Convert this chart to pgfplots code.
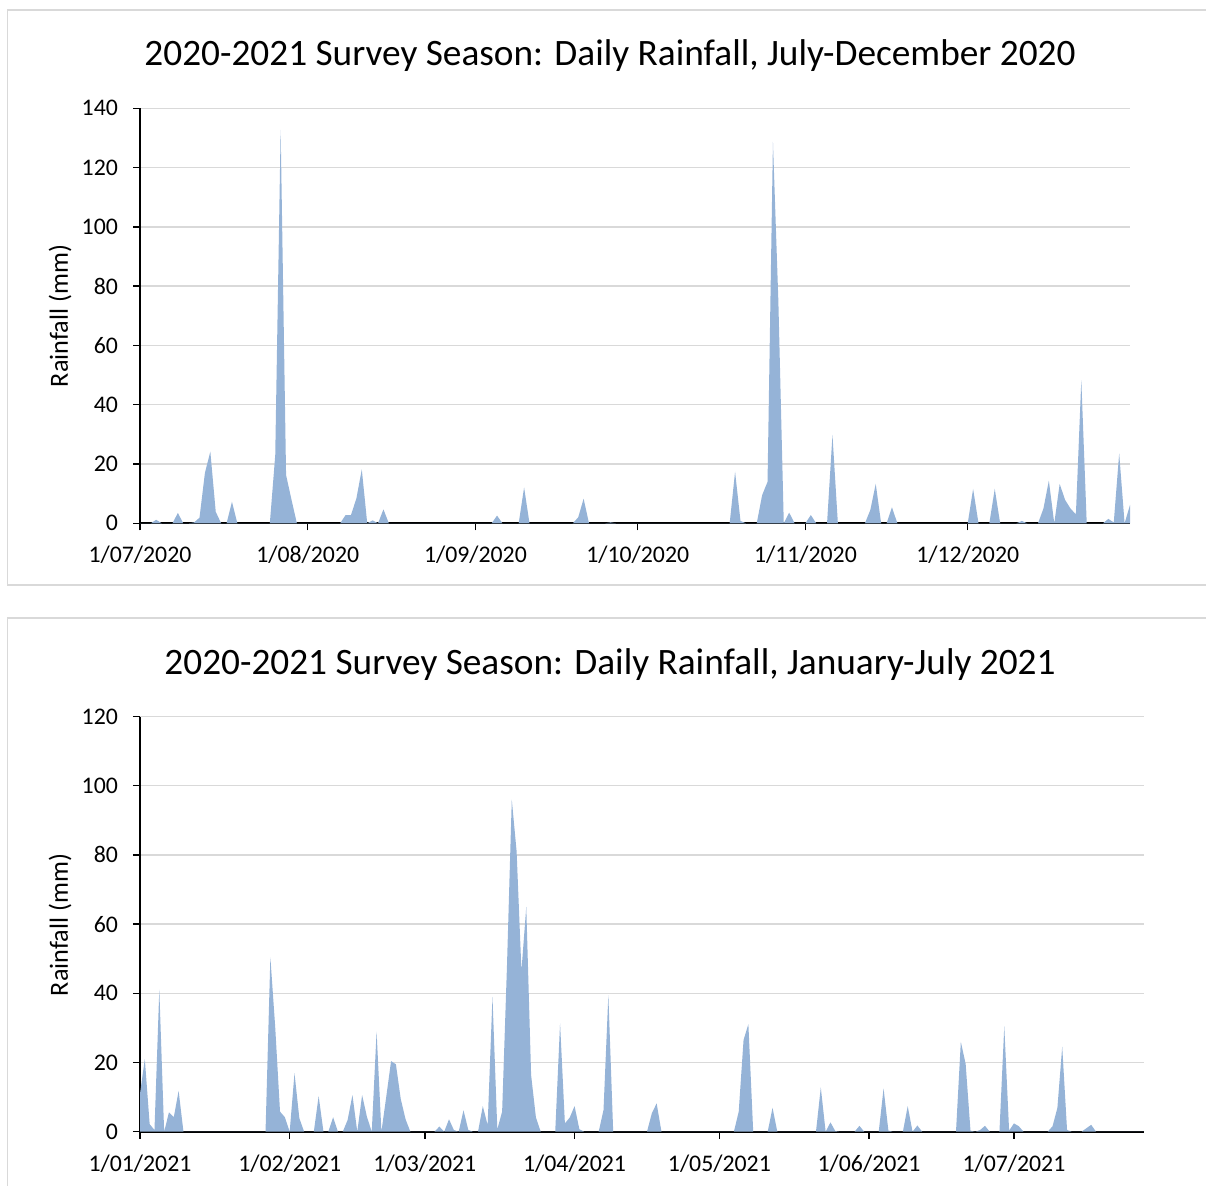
\documentclass[border=0pt]{standalone}
\usepackage{pgfplots}
\pgfplotsset{compat=1.18}
\usepackage{fontspec}
\setmainfont{Carlito}
\definecolor{areablue}{RGB}{149,179,215}
\definecolor{gridgray}{RGB}{217,217,217}
\pgfplotsset{
  rainaxis/.style={
    scale only axis,
    axis lines*=left,
    xmin=0, ymin=0,
    axis line style={black, line width=1pt},
    tick style={black, line width=0.75pt},
    major tick length=3.5pt,
    tick align=outside,
    ymajorgrids,
    grid style={gridgray, line width=0.75pt},
    ticklabel style={font=\fontsize{11.9}{14}\selectfont},
    xticklabel style={yshift=-4.5pt},
    yticklabel style={xshift=-4pt},
    /pgf/number format/assume math mode=true,
    anchor=south west,
  }
}
\begin{document}
\begin{tikzpicture}
\useasboundingbox (0,0) rectangle (603pt,-592.5pt);
\clip (0,0) rectangle (603pt,-592.5pt);
\draw[gridgray, line width=0.75pt] (3.75pt,-5pt) rectangle (612pt,-292.5pt);
\draw[gridgray, line width=0.75pt] (3.75pt,-309pt) rectangle (612pt,-600pt);

\node[font=\fontsize{18.65}{23}\selectfont] at (305pt,-28pt) {2020-2021 Survey Season: Daily Rainfall, July-December 2020};
\node[font=\fontsize{13.1}{16}\selectfont, rotate=90] at (30pt,-158pt) {Rainfall (mm)};

\begin{axis}[rainaxis,
  at={(70pt,-261.65pt)},
  width=495pt, height=207.5pt,
  xmax=183, ymax=140,
  ytick={0,20,...,140},
  xtick={0,31,62,92,123,153},
  xticklabels={1/07/2020,1/08/2020,1/09/2020,1/10/2020,1/11/2020,1/12/2020},
]
\addplot[draw=none, fill=areablue] coordinates {
(0,0)(1,0)(2,0)(3,1.2)(4,0)(5,0)(6,0)(7,3.5)(8,0)(9,0)
(10,0.3)(11,1.9)(12,17)(13,24.2)(14,3.9)(15,0)(16,0)(17,7.3)(18,0)(19,0)
(20,0)(21,0)(22,0)(23,0)(24,0)(25,23)(26,132.7)(27,16.3)(28,8)(29,0)
(30,0)(31,0)(32,0)(33,0)(34,0)(35,0)(36,0)(37,0)(38,2.8)(39,2.8)
(40,8.4)(41,18.2)(42,0)(43,1)(44,0)(45,4.7)(46,0)(47,0)(48,0)(49,0)
(50,0)(51,0)(52,0)(53,0)(54,0)(55,0)(56,0)(57,0)(58,0)(59,0)
(60,0)(61,0)(62,0)(63,0)(64,0)(65,0)(66,2.6)(67,0)(68,0)(69,0)
(70,0)(71,12.1)(72,0)(73,0)(74,0)(75,0)(76,0)(77,0)(78,0)(79,0)
(80,0)(81,2)(82,8.3)(83,0)(84,0)(85,0)(86,0)(87,0.3)(88,0)(89,0)
(90,0)(91,0)(92,0)(93,0)(94,0)(95,0)(96,0)(97,0)(98,0)(99,0)
(100,0)(101,0)(102,0)(103,0)(104,0)(105,0)(106,0)(107,0)(108,0)(109,0)
(110,17.4)(111,0.8)(112,0)(113,0)(114,0)(115,9.5)(116,14)(117,128.7)(118,75)(119,0)
(120,3.6)(121,0)(122,0)(123,0)(124,2.8)(125,0)(126,0)(127,0)(128,29.8)(129,0)
(130,0)(131,0)(132,0)(133,0)(134,0)(135,4.5)(136,13.3)(137,0)(138,0)(139,5.4)
(140,0)(141,0)(142,0)(143,0)(144,0)(145,0)(146,0)(147,0)(148,0)(149,0)
(150,0)(151,0)(152,0)(153,0)(154,11.6)(155,0)(156,0)(157,0)(158,11.6)(159,0)
(160,0)(161,0)(162,0)(163,0.8)(164,0)(165,0)(166,0)(167,5)(168,14.4)(169,0)
(170,13.3)(171,7.9)(172,5)(173,3)(174,48.3)(175,0)(176,0)(177,0)(178,0)(179,1.5)
(180,0.3)(181,23.6)(182,0)(183,6.2)
} \closedcycle;
\end{axis}

\node[font=\fontsize{18.65}{23}\selectfont] at (305pt,-332.5pt) {2020-2021 Survey Season: Daily Rainfall, January-July 2021};
\node[font=\fontsize{13.1}{16}\selectfont, rotate=90] at (30pt,-462.5pt) {Rainfall (mm)};

\begin{axis}[rainaxis,
  at={(70pt,-565.85pt)},
  width=502.15pt, height=207.6pt,
  xmax=208, ymax=120,
  ytick={0,20,...,120},
  xtick={0,31,59,90,120,151,181},
  xticklabels={1/01/2021,1/02/2021,1/03/2021,1/04/2021,1/05/2021,1/06/2021,1/07/2021},
]
\addplot[draw=none, fill=areablue] coordinates {
(0,11)(1,21)(2,2.2)(3,0.5)(4,41.1)(5,0)(6,5.6)(7,4.2)(8,11.8)(9,0)
(10,0)(11,0)(12,0)(13,0)(14,0)(15,0)(16,0)(17,0)(18,0)(19,0)
(20,0)(21,0)(22,0)(23,0)(24,0)(25,0)(26,0)(27,50.4)(28,30.3)(29,5.8)
(30,4.2)(31,0)(32,16.9)(33,3.9)(34,0)(35,0)(36,0)(37,10.3)(38,0)(39,0)
(40,4.2)(41,0)(42,0)(43,3.4)(44,10.6)(45,0)(46,10.6)(47,4.3)(48,0)(49,28.9)
(50,0)(51,10.1)(52,20.4)(53,19.5)(54,9.5)(55,3.6)(56,0)(57,0)(58,0)(59,0)
(60,0)(61,0)(62,1.5)(63,0)(64,3.6)(65,0.5)(66,0)(67,6.2)(68,0.5)(69,0)
(70,0)(71,7.4)(72,1.9)(73,39)(74,0.7)(75,5.8)(76,47.7)(77,96)(78,81)(79,46.5)
(80,65)(81,16.4)(82,4.1)(83,0)(84,0)(85,0)(86,0)(87,31.3)(88,2.4)(89,4.1)
(90,7.4)(91,0.7)(92,0)(93,0)(94,0)(95,0)(96,6.3)(97,39.5)(98,0)(99,0)
(100,0)(101,0)(102,0)(103,0)(104,0)(105,0)(106,5.3)(107,8.2)(108,0)(109,0)
(110,0)(111,0)(112,0)(113,0)(114,0)(115,0)(116,0)(117,0)(118,0)(119,0)
(120,0)(121,0)(122,0)(123,0)(124,5.8)(125,26.5)(126,31.1)(127,0)(128,0)(129,0)
(130,0)(131,6.9)(132,0)(133,0)(134,0)(135,0)(136,0)(137,0)(138,0)(139,0)
(140,0)(141,12.8)(142,0)(143,2.7)(144,0.2)(145,0)(146,0)(147,0)(148,0)(149,1.7)
(150,0)(151,0)(152,0)(153,0)(154,12.5)(155,0.3)(156,0)(157,0)(158,0)(159,7.4)
(160,0)(161,1.8)(162,0)(163,0)(164,0)(165,0)(166,0)(167,0)(168,0)(169,0)
(170,26)(171,19.6)(172,0.3)(173,0)(174,0.5)(175,1.7)(176,0)(177,0)(178,0)(179,30.5)
(180,0.3)(181,2.4)(182,1.6)(183,0)(184,0)(185,0)(186,0)(187,0)(188,0)(189,1.6)
(190,6.9)(191,24.6)(192,0.5)(193,0)(194,0)(195,0)(196,1)(197,2)(198,0)(199,0)
(200,0)(201,0)(202,0)(203,0)(204,0)(205,0)(206,0)(207,0)(208,0)
} \closedcycle;
\end{axis}
\end{tikzpicture}
\end{document}
